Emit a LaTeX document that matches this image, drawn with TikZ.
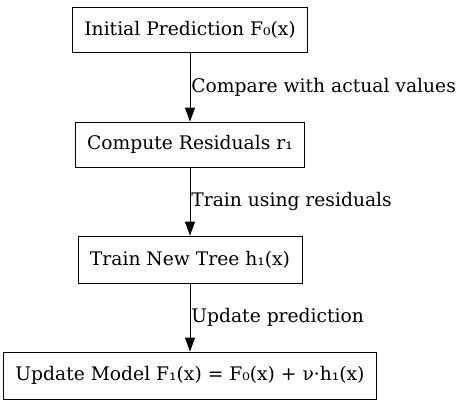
\documentclass[tikz,border=0pt]{standalone}
\usepackage{fontspec}
\setmainfont{DejaVu Serif}
\usetikzlibrary{arrows.meta}
\usetikzlibrary{positioning}
\tikzset{
    stepbox/.style={
           rectangle,
           draw=black, thick,
           minimum height=45pt,
           inner xsep=12pt,
           text centered,
           font=\fontsize{18.7pt}{22pt}\selectfont,
           },
    steplabel/.style={
           anchor=west,
           inner xsep=1pt,
           font=\fontsize{18.7pt}{22pt}\selectfont,
           },
}

\begin{document}
\begin{tikzpicture}[-{Triangle[length=14pt,width=10pt]},thick,x=1pt,y=-1pt]
 \useasboundingbox (0,0) rectangle (461,407);

 % First step
 \node[stepbox] (Init) at (190,29.5)
 {Initial Prediction F₀(x)};

 % Residuals
 \node[stepbox,
 node distance=115pt,
 below of=Init] (Resid)
 {Compute Residuals r₁};

 % New tree
 \node[stepbox,
 node distance=115pt,
 minimum height=47pt,
 below of=Resid] (Tree)
 {Train New Tree h₁(x)};

 % Model update
 \node[stepbox,
 node distance=116pt,
 minimum height=47pt,
 below of=Tree] (Update)
 {Update Model F₁(x) = F₀(x) + ν·h₁(x)};

 % arrows with the text to the right
 \path (Init) edge node [steplabel] {Compare with actual values} (Resid)
       (Resid) edge node [steplabel] {Train using residuals} (Tree)
       (Tree) edge node [steplabel] {Update prediction} (Update)
 ;
\end{tikzpicture}
\end{document}
